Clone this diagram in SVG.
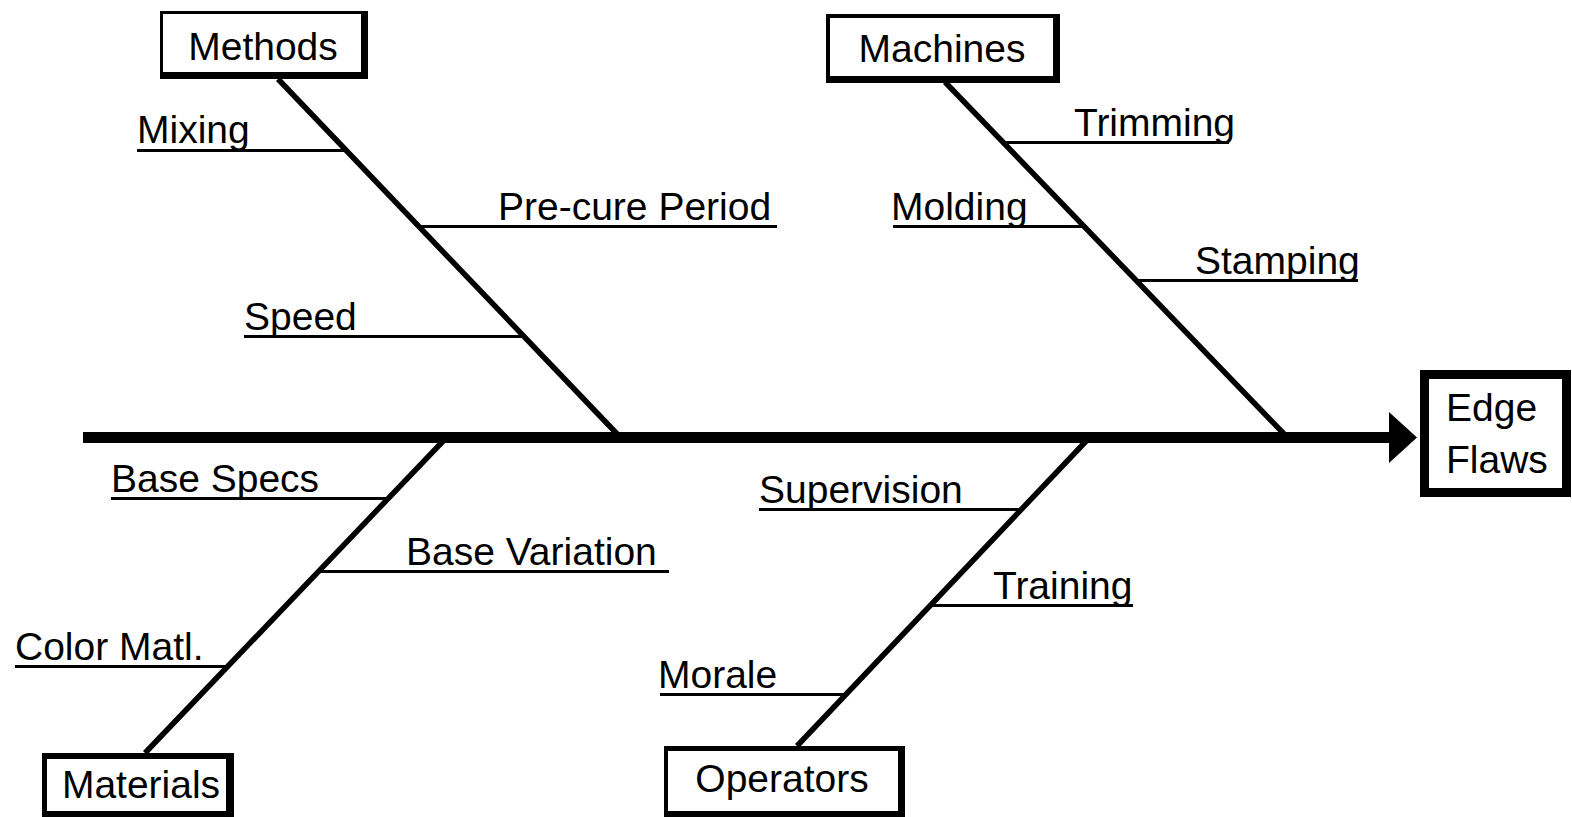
<svg xmlns="http://www.w3.org/2000/svg" width="1572" height="817" viewBox="0 0 1572 817">
<style>
text{font-family:"Liberation Sans",Arial,sans-serif;font-size:39px;fill:#000}
.mid{text-anchor:middle}
.spine{stroke:#000;stroke-width:11;fill:none}
.bone{stroke:#000;stroke-width:5.5;fill:none}
.sub{stroke:#000;stroke-width:3;fill:none}
.shadow{fill:#000}
.face{fill:#fff}
</style>
<rect width="1572" height="817" fill="#fff"/>
<g id="connectors">
<line class="spine" x1="83" y1="437.5" x2="1394" y2="437.5"/>
<polygon points="1389,412 1417,437.5 1389,463" fill="#000"/>
<line class="bone" x1="278" y1="79" x2="620" y2="437"/>
<line class="bone" x1="945" y1="82" x2="1287" y2="437"/>
<line class="bone" x1="145" y1="753" x2="447" y2="437"/>
<line class="bone" x1="797" y1="746" x2="1090" y2="437"/>
<line class="sub" x1="137" y1="150.5" x2="345" y2="150.5"/>
<line class="sub" x1="421" y1="226.5" x2="777" y2="226.5"/>
<line class="sub" x1="244" y1="336.5" x2="524" y2="336.5"/>
<line class="sub" x1="1005" y1="142.5" x2="1229" y2="142.5"/>
<line class="sub" x1="893" y1="226.5" x2="1084" y2="226.5"/>
<line class="sub" x1="1136" y1="280.5" x2="1358" y2="280.5"/>
<line class="sub" x1="111" y1="498.5" x2="388" y2="498.5"/>
<line class="sub" x1="320" y1="571.5" x2="669" y2="571.5"/>
<line class="sub" x1="15" y1="666.5" x2="227" y2="666.5"/>
<line class="sub" x1="759" y1="509.5" x2="1021" y2="509.5"/>
<line class="sub" x1="930" y1="605.5" x2="1133" y2="605.5"/>
<line class="sub" x1="660" y1="694.5" x2="845" y2="694.5"/>
</g>
<g id="methods">
<rect class="shadow" x="160" y="11" width="208" height="68"/>
<rect class="face" x="163" y="14" width="198" height="58"/>
<text class="mid" x="263" y="60">Methods</text>
</g>
<g id="machines">
<rect class="shadow" x="826" y="14" width="234" height="69"/>
<rect class="face" x="830" y="18" width="223" height="58"/>
<text class="mid" x="942" y="62">Machines</text>
</g>
<g id="materials">
<rect class="shadow" x="42" y="753" width="192" height="64"/>
<rect class="face" x="47" y="759" width="179" height="52"/>
<text class="mid" x="141" y="798">Materials</text>
</g>
<g id="operators">
<rect class="shadow" x="664" y="746" width="241" height="71"/>
<rect class="face" x="668" y="751" width="230" height="60"/>
<text class="mid" x="782" y="792">Operators</text>
</g>
<g id="edge-flaws">
<rect x="1424.5" y="374.5" width="142" height="118" fill="#fff" stroke="#000" stroke-width="9"/>
<text x="1446" y="421">Edge</text>
<text x="1446" y="473">Flaws</text>
</g>
<g id="mixing"><text x="137" y="143">Mixing</text></g>
<g id="pre-cure"><text x="498" y="220">Pre-cure Period</text></g>
<g id="speed"><text x="244" y="330">Speed</text></g>
<g id="trimming"><text x="1074" y="136">Trimming</text></g>
<g id="molding"><text x="891" y="220">Molding</text></g>
<g id="stamping"><text x="1195" y="274">Stamping</text></g>
<g id="base-specs"><text x="111" y="492">Base Specs</text></g>
<g id="base-variation"><text x="406" y="565">Base Variation</text></g>
<g id="color-matl"><text x="15" y="660">Color Matl.</text></g>
<g id="supervision"><text x="759" y="503">Supervision</text></g>
<g id="training"><text x="993" y="599">Training</text></g>
<g id="morale"><text x="658" y="688">Morale</text></g>
</svg>
